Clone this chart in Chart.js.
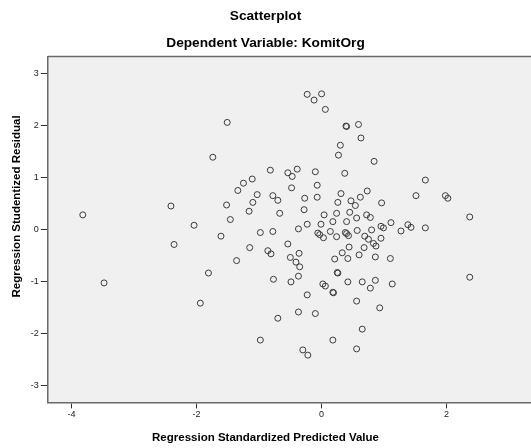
<!DOCTYPE html>
<html>
<head>
<meta charset="utf-8">
<script src="https://cdn.jsdelivr.net/npm/chart.js@4.4.1/dist/chart.umd.min.js"></script>
<style>
  body { margin: 0; background: #fff; overflow: hidden; }
</style>
</head>
<body>
<canvas id="chartCanvas" width="531" height="448"></canvas>
<script>
const predicted = [
  -3.82, -3.48, -2.41, -2.36, -2.04, -1.94,
  -1.51, -1.74, -0.82, -0.54, -0.47, -0.39, -0.48, -1.11, -1.25, -1.34, -1.03, -0.78, -0.70, -1.10, -1.52, -1.16, -0.67, -1.46, -0.37,
  -1.61, -0.98, -0.78, -1.15, -0.54, -0.86, -0.81, -1.36, -0.50, -0.41, -0.36, -0.35, -1.81, -0.77, -0.49, -0.37, -0.70, -0.37, -0.98,
  -0.23, -0.12, 0.00, 0.06, 0.39, 0.40, 0.59, 0.63, 0.30, 0.27, 0.84, -0.10, 0.37, -0.07, 0.31, 0.73, -0.27, -0.07, 0.62, 0.26, 0.47,
  0.54, 0.96, -0.28, 0.04, 0.24, 0.45, 0.72, 0.78, 0.56, -0.23, -0.01, 0.18, 0.40, 0.95, 0.99, 1.11,
  -0.06, -0.03, 0.03, 0.14, 0.24, 0.38, 0.40, 0.43, 0.57, 0.80, 0.69, 0.75, 0.83, 0.87, 0.95, 0.44, 0.68, 0.33, 0.60, 0.21, 0.42,
  0.86, 1.10, 0.25, 0.26, 0.02, 0.06, 0.42, 0.65, 0.86, 0.78, 1.13, 0.18, 0.19, -0.23, 0.56, 0.93, -0.10,
  0.65, 0.18, -0.30, -0.22, 0.56,
  1.66, 1.51, 1.98, 2.02, 2.37, 1.38, 1.43, 1.27, 1.66, 2.37
];
const residual = [
  0.28, -1.03, 0.45, -0.29, 0.08, -1.42,
  2.06, 1.39, 1.14, 1.09, 1.02, 1.16, 0.80, 0.97, 0.89, 0.75, 0.67, 0.65, 0.56, 0.52, 0.47, 0.35, 0.31, 0.19, 0.01,
  -0.13, -0.06, -0.04, -0.35, -0.28, -0.41, -0.47, -0.60, -0.54, -0.63, -0.46, -0.72, -0.84, -0.96, -1.01, -0.90, -1.71, -1.59, -2.13,
  2.60, 2.49, 2.61, 2.31, 1.99, 1.98, 2.02, 1.76, 1.62, 1.43, 1.31, 1.11, 1.08, 0.85, 0.69, 0.74, 0.60, 0.62, 0.62, 0.52, 0.55,
  0.46, 0.51, 0.38, 0.28, 0.31, 0.33, 0.28, 0.23, 0.22, 0.10, 0.10, 0.15, 0.15, 0.06, 0.03, 0.13,
  -0.07, -0.10, -0.16, -0.04, -0.14, -0.06, -0.08, -0.12, -0.02, -0.01, -0.13, -0.19, -0.27, -0.32, -0.17, -0.34, -0.35, -0.45, -0.49, -0.57, -0.56,
  -0.53, -0.56, -0.83, -0.84, -1.05, -1.09, -1.01, -1.01, -0.98, -1.13, -1.05, -1.21, -1.22, -1.26, -1.38, -1.51, -1.62,
  -1.92, -2.13, -2.32, -2.42, -2.30,
  0.95, 0.65, 0.65, 0.60, 0.24, 0.09, 0.04, -0.03, 0.03, -0.92
];
const xTicks = [-4, -2, 0, 2];
const yTicks = [-3, -2, -1, 0, 1, 2, 3];
const titleLines = ['Scatterplot', 'Dependent Variable: KomitOrg'];
const xTitle = 'Regression Standardized Predicted Value';
const yTitle = 'Regression Studentized Residual';

const points = predicted.map((v, i) => ({ x: v, y: residual[i] }));
const fontName = "'Liberation Sans', Arial, sans-serif";

// grey plot background, top edge of the frame, and the y title
// (SPSS centres it a bit above the middle of the plot)
const plotFrame = {
  id: 'plotFrame',
  beforeDraw(chart) {
    const { ctx, chartArea: a } = chart;
    ctx.save();
    ctx.fillStyle = '#f0f0f0';
    ctx.fillRect(a.left, a.top, a.right - a.left, a.bottom - a.top);
    ctx.restore();
  },
  afterDraw(chart) {
    const { ctx, chartArea: a } = chart;
    ctx.save();
    ctx.strokeStyle = '#6a6a6a';
    ctx.lineWidth = 1.5;
    ctx.beginPath();
    ctx.moveTo(a.left, a.top);
    ctx.lineTo(a.right, a.top);
    ctx.stroke();

    const ys = chart.scales.y;
    ctx.translate(ys.left + 10 + 6.9, (a.top + a.bottom) / 2 - 23);
    ctx.rotate(-Math.PI / 2);
    ctx.fillStyle = '#000';
    ctx.font = 'bold 11.5px ' + fontName;
    ctx.textAlign = 'center';
    ctx.textBaseline = 'middle';
    ctx.fillText(yTitle, 0, 0);
    ctx.restore();
  }
};

new Chart('chartCanvas', {
  type: 'scatter',
  data: {
    datasets: [{
      data: points,
      pointRadius: 3,
      pointHoverRadius: 3,
      pointBorderWidth: 1,
      pointBorderColor: '#3c3c3c',
      pointBackgroundColor: 'rgba(0,0,0,0)'
    }]
  },
  options: {
    responsive: false,
    animation: false,
    layout: { padding: 0, autoPadding: false },
    plugins: {
      legend: { display: false },
      tooltip: { enabled: false },
      title: {
        display: true,
        text: titleLines,
        color: '#000',
        font: { family: fontName, size: 13.7, weight: 'bold', lineHeight: 1.95 },
        padding: { top: 3, bottom: 0 }
      },
      subtitle: {
        display: true,
        position: 'bottom',
        text: xTitle,
        color: '#000',
        font: { family: fontName, size: 11.5, weight: 'bold', lineHeight: 1.2 },
        padding: { top: 10, bottom: 3 }
      }
    },
    scales: {
      x: {
        type: 'linear',
        min: -4.38,
        max: 3.35,
        afterBuildTicks: (s) => { s.ticks = xTicks.map(v => ({ value: v })); },
        ticks: { color: '#222', font: { family: fontName, size: 9 }, padding: 1, maxRotation: 0 },
        grid: { drawOnChartArea: false, drawTicks: true, tickLength: 6, color: '#333' },
        border: { display: true, color: '#6a6a6a', width: 1.5 }
      },
      y: {
        type: 'linear',
        min: -3.33,
        max: 3.33,
        afterBuildTicks: (s) => { s.ticks = yTicks.map(v => ({ value: v })); },
        ticks: { color: '#222', font: { family: fontName, size: 9 }, padding: 2 },
        grid: { drawOnChartArea: false, drawTicks: true, tickLength: 7, color: '#333' },
        border: { display: true, color: '#6a6a6a', width: 1.5 },
        title: {
          display: true,
          text: yTitle,
          color: 'rgba(0,0,0,0)',
          font: { family: fontName, size: 11.5, weight: 'bold', lineHeight: 1.2 },
          padding: { top: 10, bottom: 5 }
        }
      }
    }
  },
  plugins: [plotFrame]
});
</script>
</body>
</html>
